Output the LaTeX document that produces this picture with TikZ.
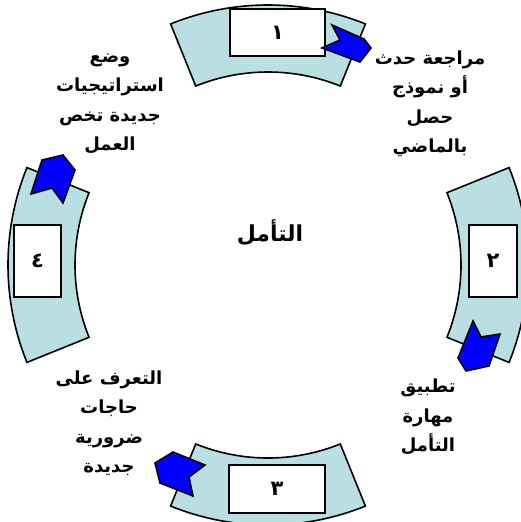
\documentclass[tikz,border=0pt]{standalone}
\usepackage{fontspec}
\newfontfamily\arabicfont[Script=Arabic]{DejaVu Sans}
\TeXXeTstate=1
\definecolor{segfill}{RGB}{185,223,227}
\definecolor{arrowblue}{RGB}{0,0,255}
\begin{document}
\begin{tikzpicture}[x=1pt,y=1pt,
  seg/.style={draw=black,fill=segfill,line width=1.6pt},
  numbox/.style={draw=black,fill=white,line width=1.6pt,inner sep=0pt,
    font=\arabicfont\bfseries\fontsize{21}{21}\selectfont},
  lbl/.style={align=center,inner sep=0pt,
    font=\arabicfont\bfseries\fontsize{18}{29.5}\selectfont},
  ttl/.style={inner sep=0pt,font=\arabicfont\bfseries\fontsize{22}{22}\selectfont},
  arrowshape/.style={draw=black,fill=arrowblue,line width=1.6pt,line join=miter}]
\useasboundingbox (0,0) rectangle (520,-522);
\begin{scope}[shift={(268,-265)}]
  \foreach \a in {90,0,270,180}{
    \draw[seg] ({\a-22}:260) arc[start angle={\a-22},end angle={\a+22},radius=260]
      -- ({\a+22}:193) arc[start angle={\a+22},end angle={\a-22},radius=193] -- cycle;
  }
\end{scope}
% number boxes
\node[numbox,minimum width=95pt,minimum height=47pt] (b1) at (277.5,-32.5) {\beginR ١\endR};
\node[numbox,minimum width=48pt,minimum height=72pt] (b2) at (493,-261) {\beginR ٢\endR};
\node[numbox,minimum width=96pt,minimum height=48pt] (b3) at (277,-489) {\beginR ٣\endR};
\node[numbox,minimum width=47pt,minimum height=72pt] (b4) at (37.5,-261) {\beginR ٤\endR};
% blue notched arrows
\draw[arrowshape] (332,-25) -- (364,-39) -- (371,-48) -- (360,-62) -- (322,-48) -- (340,-40) -- cycle;
\draw[arrowshape] (473,-321) -- (481,-337) -- (500,-334) -- (489,-366) -- (466,-371) -- (458,-358) -- cycle;
\draw[arrowshape] (173,-452) -- (205,-465) -- (189,-477) -- (193,-496) -- (160,-483) -- (155,-463) -- cycle;
\draw[arrowshape] (42,-160) -- (63,-155) -- (75,-170) -- (63,-203) -- (52,-188) -- (31,-194) -- cycle;
% labels
\node[lbl] (t1) at (430,-104) {\beginR مراجعة حدث\endR\\\beginR أو نموذج\endR\\\beginR حصل\endR\\\beginR بالماضي\endR};
\node[lbl] (t2) at (110,-104) {\beginR وضع\endR\\\beginR استراتيجيات\endR\\\beginR جديدة تخص\endR\\\beginR العمل\endR};
\node[lbl] (t3) at (428,-417) {\beginR تطبيق\endR\\\beginR مهارة\endR\\\beginR التأمل\endR};
\node[lbl] (t4) at (109,-423) {\beginR التعرف على\endR\\\beginR حاجات\endR\\\beginR ضرورية\endR\\\beginR جديدة\endR};
\node[ttl] (title) at (270,-233) {\beginR التأمل\endR};
\end{tikzpicture}
\end{document}
